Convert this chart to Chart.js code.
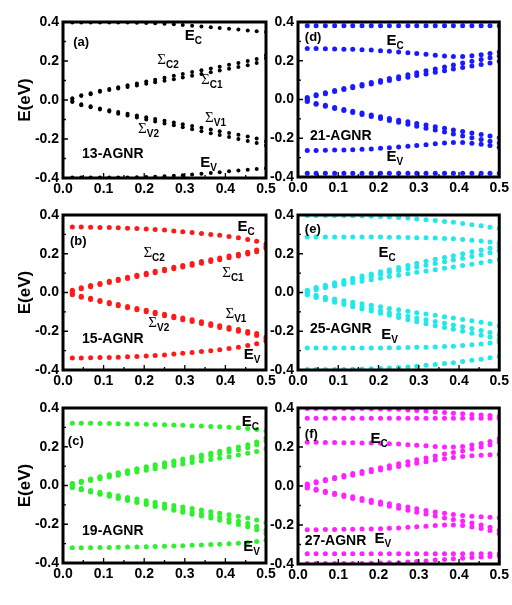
<!DOCTYPE html>
<html>
<head>
<meta charset="utf-8">
<script src="https://cdn.jsdelivr.net/npm/chart.js@4.4.1/dist/chart.umd.min.js"></script>
<style>
  html, body { margin: 0; padding: 0; background: #fff; }
  #wrap { position: relative; width: 512px; height: 605px; overflow: hidden; }
  #wrap canvas { position: absolute; }
</style>
</head>
<body>
<div id="wrap"></div>
<script>
// bias voltage points shared by every panel
const XS = [0.023, 0.045, 0.068, 0.091, 0.114, 0.136, 0.159, 0.182, 0.205, 0.227, 0.25,
  0.273, 0.295, 0.318, 0.341, 0.364, 0.386, 0.409, 0.432, 0.455, 0.477, 0.5];

const X_TICKS = [0, 0.1, 0.2, 0.3, 0.4, 0.5];
const X_MINOR = [0.05, 0.15, 0.25, 0.35, 0.45];
const Y_TICKS = [-0.4, -0.2, 0, 0.2, 0.4];
const Y_MINOR = [-0.3, -0.1, 0.1, 0.3];

// (a) 13-AGNR
const a_Ec = [0.398, 0.398, 0.398, 0.398, 0.398, 0.397, 0.397, 0.396, 0.395, 0.393, 0.391, 0.388, 0.385, 0.381, 0.377, 0.373, 0.369, 0.365, 0.361, 0.357, 0.353, 0.349];
const a_Sc2 = [0.009, 0.024, 0.034, 0.047, 0.057, 0.066, 0.076, 0.085, 0.095, 0.104, 0.114, 0.124, 0.133, 0.143, 0.152, 0.162, 0.171, 0.181, 0.19, 0.2, 0.21, 0.23];
const a_Sc1 = [0.005, 0.02, 0.03, 0.042, 0.051, 0.059, 0.067, 0.075, 0.083, 0.091, 0.099, 0.107, 0.115, 0.124, 0.133, 0.142, 0.151, 0.16, 0.169, 0.178, 0.19, 0.214];
const a_Sv1 = [-0.006, -0.022, -0.032, -0.044, -0.053, -0.062, -0.071, -0.08, -0.089, -0.097, -0.106, -0.115, -0.124, -0.133, -0.142, -0.151, -0.16, -0.169, -0.178, -0.187, -0.197, -0.212];
const a_Sv2 = [-0.01, -0.027, -0.037, -0.049, -0.059, -0.07, -0.08, -0.09, -0.1, -0.11, -0.12, -0.13, -0.14, -0.15, -0.16, -0.17, -0.18, -0.19, -0.2, -0.21, -0.22, -0.233];
const a_Ev = [-0.398, -0.398, -0.398, -0.398, -0.398, -0.397, -0.397, -0.396, -0.395, -0.393, -0.391, -0.389, -0.386, -0.382, -0.378, -0.374, -0.37, -0.366, -0.362, -0.358, -0.354, -0.35];

// (b) 15-AGNR
const b_Ec = [0.338, 0.338, 0.337, 0.336, 0.335, 0.334, 0.332, 0.33, 0.328, 0.325, 0.322, 0.318, 0.314, 0.31, 0.305, 0.3, 0.295, 0.289, 0.282, 0.274, 0.264, 0.25];
const b_Sc2 = [0.012, 0.025, 0.036, 0.047, 0.058, 0.068, 0.079, 0.089, 0.099, 0.11, 0.12, 0.13, 0.14, 0.15, 0.16, 0.169, 0.178, 0.188, 0.198, 0.208, 0.219, 0.237];
const b_Sc1 = [0.006, 0.019, 0.03, 0.041, 0.052, 0.062, 0.072, 0.082, 0.092, 0.102, 0.112, 0.122, 0.132, 0.141, 0.151, 0.16, 0.169, 0.179, 0.189, 0.199, 0.21, 0.228];
const b_Sv1 = [-0.006, -0.019, -0.03, -0.041, -0.052, -0.062, -0.072, -0.082, -0.092, -0.102, -0.112, -0.122, -0.132, -0.141, -0.151, -0.161, -0.171, -0.181, -0.191, -0.201, -0.212, -0.23];
const b_Sv2 = [-0.012, -0.025, -0.036, -0.047, -0.058, -0.068, -0.079, -0.089, -0.099, -0.11, -0.12, -0.13, -0.14, -0.15, -0.16, -0.17, -0.18, -0.19, -0.2, -0.21, -0.222, -0.24];
const b_Ev = [-0.338, -0.338, -0.337, -0.336, -0.335, -0.334, -0.332, -0.33, -0.328, -0.325, -0.322, -0.318, -0.314, -0.31, -0.305, -0.3, -0.295, -0.289, -0.282, -0.274, -0.264, -0.252];

// (c) 19-AGNR
const c_Ec = [0.321, 0.321, 0.321, 0.32, 0.32, 0.319, 0.318, 0.317, 0.316, 0.315, 0.314, 0.312, 0.311, 0.309, 0.307, 0.305, 0.303, 0.301, 0.298, 0.294, 0.289, 0.283];
const c_Sc3 = [0.01, 0.022, 0.034, 0.045, 0.055, 0.066, 0.076, 0.087, 0.097, 0.107, 0.117, 0.127, 0.137, 0.147, 0.157, 0.167, 0.177, 0.188, 0.199, 0.21, 0.225, 0.245];
const c_Sc2 = [0.01, 0.02, 0.031, 0.042, 0.052, 0.062, 0.072, 0.082, 0.091, 0.1, 0.11, 0.119, 0.128, 0.137, 0.146, 0.155, 0.164, 0.174, 0.184, 0.195, 0.21, 0.23];
const c_Sc1 = [0.005, 0.016, 0.026, 0.035, 0.044, 0.053, 0.062, 0.07, 0.079, 0.087, 0.095, 0.103, 0.111, 0.119, 0.126, 0.134, 0.141, 0.149, 0.157, 0.166, 0.176, 0.19];
const c_Sv1 = [-0.005, -0.016, -0.026, -0.035, -0.044, -0.053, -0.062, -0.07, -0.079, -0.087, -0.095, -0.103, -0.111, -0.119, -0.127, -0.135, -0.143, -0.151, -0.159, -0.168, -0.178, -0.192];
const c_Sv2 = [-0.01, -0.02, -0.031, -0.042, -0.052, -0.062, -0.072, -0.082, -0.091, -0.1, -0.11, -0.119, -0.128, -0.137, -0.146, -0.155, -0.164, -0.174, -0.184, -0.196, -0.211, -0.231];
const c_Sv3 = [-0.01, -0.022, -0.034, -0.045, -0.056, -0.067, -0.077, -0.088, -0.098, -0.108, -0.118, -0.128, -0.138, -0.148, -0.158, -0.168, -0.179, -0.19, -0.201, -0.213, -0.228, -0.248];
const c_Ev = [-0.321, -0.321, -0.321, -0.32, -0.32, -0.319, -0.318, -0.317, -0.316, -0.315, -0.314, -0.312, -0.311, -0.309, -0.307, -0.305, -0.303, -0.301, -0.298, -0.294, -0.289, -0.283];

// (d) 21-AGNR
const d_Top = [0.381, 0.381, 0.381, 0.381, 0.381, 0.381, 0.381, 0.381, 0.381, 0.381, 0.381, 0.381, 0.381, 0.381, 0.381, 0.381, 0.381, 0.381, 0.381, 0.381, 0.381, 0.381];
const d_Ec = [0.263, 0.263, 0.262, 0.261, 0.26, 0.259, 0.257, 0.255, 0.252, 0.249, 0.245, 0.241, 0.237, 0.233, 0.229, 0.225, 0.222, 0.222, 0.226, 0.231, 0.237, 0.245];
const d_Sc2 = [0.01, 0.024, 0.035, 0.046, 0.057, 0.067, 0.078, 0.088, 0.098, 0.108, 0.118, 0.128, 0.138, 0.148, 0.158, 0.168, 0.178, 0.188, 0.197, 0.206, 0.215, 0.224];
const d_Sc1 = [0.005, 0.02, 0.03, 0.041, 0.051, 0.061, 0.07, 0.08, 0.089, 0.098, 0.107, 0.115, 0.124, 0.132, 0.141, 0.149, 0.157, 0.165, 0.173, 0.181, 0.189, 0.197];
const d_Sv1 = [-0.005, -0.02, -0.03, -0.041, -0.051, -0.061, -0.07, -0.08, -0.089, -0.098, -0.107, -0.115, -0.124, -0.132, -0.141, -0.149, -0.157, -0.165, -0.173, -0.181, -0.189, -0.198];
const d_Sv2 = [-0.01, -0.024, -0.035, -0.046, -0.057, -0.067, -0.078, -0.088, -0.098, -0.108, -0.118, -0.128, -0.138, -0.148, -0.158, -0.168, -0.178, -0.188, -0.197, -0.206, -0.215, -0.225];
const d_Ev = [-0.263, -0.263, -0.262, -0.261, -0.26, -0.259, -0.257, -0.255, -0.252, -0.249, -0.245, -0.241, -0.237, -0.233, -0.229, -0.225, -0.222, -0.222, -0.226, -0.231, -0.237, -0.246];
const d_Bot = [-0.381, -0.381, -0.381, -0.381, -0.381, -0.381, -0.381, -0.381, -0.381, -0.381, -0.381, -0.381, -0.381, -0.381, -0.381, -0.381, -0.381, -0.381, -0.381, -0.381, -0.381, -0.381];

// (e) 25-AGNR
const e_Top = [0.398, 0.398, 0.398, 0.397, 0.397, 0.396, 0.395, 0.394, 0.392, 0.39, 0.387, 0.384, 0.38, 0.376, 0.372, 0.367, 0.362, 0.356, 0.35, 0.344, 0.337, 0.33];
const e_Ec = [0.287, 0.287, 0.287, 0.287, 0.287, 0.287, 0.286, 0.286, 0.286, 0.285, 0.285, 0.284, 0.283, 0.282, 0.281, 0.279, 0.277, 0.274, 0.27, 0.266, 0.261, 0.255];
const e_Sc3 = [0.012, 0.026, 0.038, 0.05, 0.062, 0.073, 0.085, 0.096, 0.107, 0.118, 0.129, 0.14, 0.151, 0.161, 0.171, 0.181, 0.19, 0.2, 0.21, 0.219, 0.228, 0.238];
const e_Sc2 = [0.008, 0.02, 0.031, 0.042, 0.053, 0.063, 0.074, 0.084, 0.094, 0.104, 0.113, 0.123, 0.132, 0.141, 0.15, 0.159, 0.168, 0.177, 0.186, 0.195, 0.205, 0.215];
const e_Sc1 = [0.004, 0.014, 0.024, 0.033, 0.042, 0.05, 0.058, 0.066, 0.074, 0.082, 0.089, 0.097, 0.104, 0.111, 0.118, 0.125, 0.132, 0.139, 0.146, 0.153, 0.161, 0.17];
const e_Sv1 = [-0.004, -0.014, -0.024, -0.033, -0.042, -0.05, -0.058, -0.066, -0.074, -0.082, -0.089, -0.097, -0.104, -0.111, -0.118, -0.125, -0.132, -0.139, -0.146, -0.153, -0.161, -0.172];
const e_Sv2 = [-0.008, -0.02, -0.031, -0.042, -0.053, -0.063, -0.074, -0.084, -0.094, -0.104, -0.113, -0.123, -0.132, -0.141, -0.15, -0.159, -0.168, -0.177, -0.186, -0.196, -0.207, -0.218];
const e_Sv3 = [-0.012, -0.026, -0.038, -0.05, -0.062, -0.073, -0.085, -0.096, -0.107, -0.118, -0.129, -0.14, -0.151, -0.161, -0.171, -0.181, -0.19, -0.2, -0.21, -0.22, -0.23, -0.242];
const e_Ev = [-0.287, -0.287, -0.287, -0.287, -0.287, -0.287, -0.286, -0.286, -0.286, -0.285, -0.285, -0.284, -0.283, -0.282, -0.281, -0.279, -0.277, -0.274, -0.27, -0.266, -0.261, -0.255];
const e_Bot = [-0.398, -0.398, -0.398, -0.397, -0.397, -0.396, -0.395, -0.394, -0.392, -0.39, -0.387, -0.384, -0.38, -0.376, -0.372, -0.367, -0.362, -0.356, -0.35, -0.344, -0.337, -0.33];

// (f) 27-AGNR
const f_Top1 = [0.398, 0.398, 0.398, 0.398, 0.398, 0.397, 0.397, 0.396, 0.395, 0.394, 0.393, 0.39, 0.387, 0.384, 0.38, 0.377, 0.373, 0.37, 0.367, 0.364, 0.361, 0.358];
const f_Top2 = [0.348, 0.348, 0.348, 0.348, 0.348, 0.348, 0.348, 0.348, 0.348, 0.348, 0.348, 0.348, 0.348, 0.348, 0.348, 0.348, 0.348, 0.348, 0.348, 0.348, 0.348, 0.348];
const f_Ec = [0.224, 0.224, 0.223, 0.223, 0.222, 0.222, 0.221, 0.22, 0.219, 0.217, 0.215, 0.212, 0.209, 0.206, 0.203, 0.2, 0.2, 0.203, 0.21, 0.218, 0.228, 0.242];
const f_Sc2 = [0.01, 0.022, 0.033, 0.044, 0.054, 0.064, 0.074, 0.084, 0.094, 0.104, 0.114, 0.124, 0.134, 0.144, 0.154, 0.164, 0.172, 0.18, 0.19, 0.2, 0.212, 0.226];
const f_Sc1 = [0.005, 0.017, 0.027, 0.037, 0.046, 0.055, 0.064, 0.073, 0.082, 0.091, 0.1, 0.108, 0.117, 0.125, 0.133, 0.14, 0.146, 0.151, 0.155, 0.158, 0.16, 0.162];
const f_Sv1 = [-0.005, -0.017, -0.027, -0.037, -0.046, -0.055, -0.064, -0.073, -0.082, -0.091, -0.1, -0.108, -0.117, -0.125, -0.133, -0.14, -0.146, -0.151, -0.155, -0.158, -0.16, -0.163];
const f_Sv2 = [-0.01, -0.022, -0.033, -0.044, -0.054, -0.064, -0.074, -0.084, -0.094, -0.104, -0.114, -0.124, -0.134, -0.144, -0.154, -0.164, -0.172, -0.18, -0.19, -0.2, -0.212, -0.227];
const f_Ev = [-0.224, -0.224, -0.223, -0.223, -0.222, -0.222, -0.221, -0.22, -0.219, -0.217, -0.215, -0.212, -0.209, -0.206, -0.203, -0.2, -0.2, -0.203, -0.21, -0.218, -0.228, -0.243];
const f_Bot2 = [-0.348, -0.348, -0.348, -0.348, -0.348, -0.348, -0.348, -0.348, -0.348, -0.348, -0.348, -0.348, -0.348, -0.348, -0.348, -0.348, -0.348, -0.348, -0.348, -0.348, -0.348, -0.348];
const f_Bot1 = [-0.398, -0.398, -0.398, -0.398, -0.398, -0.397, -0.397, -0.396, -0.395, -0.394, -0.393, -0.39, -0.387, -0.384, -0.38, -0.377, -0.373, -0.37, -0.367, -0.364, -0.361, -0.358];

const SANS = "'Liberation Sans', Arial, sans-serif";
const SERIF = "'Liberation Serif', 'Times New Roman', serif";

// text inside the panels: [kind, text, subscript, V, E]
const panels = [
  { box: [0, 0, 282, 200], area: [63, 22, 266, 178], color: '#000000', r: 2,
    series: [a_Ec, a_Sc2, a_Sc1, a_Sv1, a_Sv2, a_Ev], ylab: true, xlab: false,
    notes: [['t', '(a)', '', 0.025, 0.277], ['E', 'E', 'C', 0.30, 0.308], ['S', 'Σ', 'C2', 0.232, 0.185],
      ['S', 'Σ', 'C1', 0.34, 0.082], ['S', 'Σ', 'V1', 0.35, -0.113], ['S', 'Σ', 'V2', 0.185, -0.17],
      ['b', '13-AGNR', '', 0.047, -0.297], ['E', 'E', 'V', 0.338, -0.345]] },
  { box: [0, 195, 282, 200], area: [63, 215, 266, 370], color: '#ff1a1a', r: 2.5,
    series: [b_Ec, b_Sc2, b_Sc1, b_Sv1, b_Sv2, b_Ev], ylab: true, xlab: false,
    notes: [['t', '(b)', '', 0.017, 0.246], ['E', 'E', 'C', 0.43, 0.318], ['S', 'Σ', 'C2', 0.198, 0.185],
      ['S', 'Σ', 'C1', 0.392, 0.082], ['S', 'Σ', 'V1', 0.40, -0.133], ['S', 'Σ', 'V2', 0.21, -0.18],
      ['b', '15-AGNR', '', 0.047, -0.26], ['E', 'E', 'V', 0.445, -0.344]] },
  { box: [0, 390, 282, 215], area: [63, 408, 266, 563], color: '#2ef02e', r: 2.5,
    series: [c_Ec, c_Sc3, c_Sc2, c_Sc1, c_Sv1, c_Sv2, c_Sv3, c_Ev], ylab: true, xlab: true,
    notes: [['t', '(c)', '', 0.012, 0.21], ['E', 'E', 'C', 0.44, 0.308],
      ['b', '19-AGNR', '', 0.047, -0.256], ['E', 'E', 'V', 0.444, -0.338]] },
  { box: [262, 0, 250, 200], area: [298, 22, 503, 177], color: '#1a1aff', r: 2.5,
    series: [d_Top, d_Ec, d_Sc2, d_Sc1, d_Sv1, d_Sv2, d_Ev, d_Bot], ylab: false, xlab: false,
    notes: [['t', '(d)', '', 0.017, 0.30], ['E', 'E', 'C', 0.22, 0.282],
      ['b', '21-AGNR', '', 0.03, -0.21], ['E', 'E', 'V', 0.22, -0.318]] },
  { box: [262, 195, 250, 200], area: [298, 215, 503, 370], color: '#22e8e8', r: 2.5,
    series: [e_Top, e_Ec, e_Sc3, e_Sc2, e_Sc1, e_Sv1, e_Sv2, e_Sv3, e_Ev, e_Bot], ylab: false, xlab: false,
    notes: [['t', '(e)', '', 0.017, 0.308], ['E', 'E', 'C', 0.2, 0.185],
      ['b', '25-AGNR', '', 0.03, -0.21], ['E', 'E', 'V', 0.207, -0.241]] },
  { box: [262, 390, 250, 215], area: [298, 408, 503, 564], color: '#ff22ff', r: 2.5,
    series: [f_Top1, f_Top2, f_Ec, f_Sc2, f_Sc1, f_Sv1, f_Sv2, f_Ev, f_Bot2, f_Bot1], ylab: false, xlab: true,
    notes: [['t', '(f)', '', 0.017, 0.246], ['E', 'E', 'C', 0.18, 0.22],
      ['b', '27-AGNR', '', 0.017, -0.3], ['E', 'E', 'V', 0.19, -0.29]] }
];

function drawNote(ctx, n, px, py) {
  const [kind, text, sub] = n;
  ctx.fillStyle = '#000';
  ctx.textBaseline = 'alphabetic';
  ctx.textAlign = 'left';
  if (kind === 't') {
    ctx.font = 'bold 13px ' + SANS;
    ctx.fillText(text, px, py);
  } else if (kind === 'b') {
    ctx.font = 'bold 14px ' + SANS;
    ctx.fillText(text, px, py);
  } else if (kind === 'E') {
    ctx.font = 'bold 15px ' + SANS;
    ctx.fillText(text, px, py);
    const w = ctx.measureText(text).width;
    ctx.font = 'bold 10px ' + SANS;
    ctx.fillText(sub, px + w, py + 4);
  } else {
    ctx.font = '15px ' + SERIF;
    ctx.fillText(text, px, py);
    const w = ctx.measureText(text).width;
    ctx.font = 'bold 10px ' + SANS;
    ctx.fillText(sub, px + w, py + 4);
  }
}

const panelDecor = {
  id: 'panelDecor',
  afterDraw(chart, args, opts) {
    const { ctx, chartArea: a, scales: { x, y } } = chart;
    ctx.save();
    ctx.strokeStyle = '#000';
    ctx.lineWidth = 1.3;
    ctx.beginPath();
    X_TICKS.forEach(v => { const p = x.getPixelForValue(v); ctx.moveTo(p, a.bottom); ctx.lineTo(p, a.bottom - 5); });
    X_MINOR.forEach(v => { const p = x.getPixelForValue(v); ctx.moveTo(p, a.bottom); ctx.lineTo(p, a.bottom - 3); });
    Y_TICKS.forEach(v => { const p = y.getPixelForValue(v); ctx.moveTo(a.left, p); ctx.lineTo(a.left + 5, p); });
    Y_MINOR.forEach(v => { const p = y.getPixelForValue(v); ctx.moveTo(a.left, p); ctx.lineTo(a.left + 3, p); });
    ctx.stroke();
    ctx.lineWidth = 3;
    ctx.strokeRect(a.left, a.top, a.right - a.left, a.bottom - a.top);

    opts.notes.forEach(n => drawNote(ctx, n, x.getPixelForValue(n[3]), y.getPixelForValue(n[4])));

    ctx.fillStyle = '#000';
    if (opts.ylab) {
      ctx.save();
      ctx.translate(25, (a.top + a.bottom) / 2);
      ctx.rotate(-Math.PI / 2);
      ctx.font = 'bold 17px ' + SANS;
      ctx.textAlign = 'center';
      ctx.textBaseline = 'middle';
      ctx.fillText('E(eV)', 0, 0);
      ctx.restore();
    }
    if (opts.xlab) {
      ctx.font = 'bold 16px ' + SANS;
      ctx.textBaseline = 'alphabetic';
      const cx = (a.left + a.right) / 2;
      const wV = ctx.measureText('V').width;
      ctx.font = 'bold 9px ' + SANS;
      const wS = ctx.measureText('ω').width;
      ctx.font = 'bold 16px ' + SANS;
      const wR = ctx.measureText('(V)').width;
      const sx = cx - (wV + wS + wR) / 2;
      const base = 603;
      ctx.textAlign = 'left';
      ctx.fillText('V', sx, base);
      ctx.font = 'bold 9px ' + SANS;
      ctx.fillText('ω', sx + wV, base + 3);
      ctx.font = 'bold 16px ' + SANS;
      ctx.fillText('(V)', sx + wV + wS, base);
    }
    ctx.restore();
  }
};

const wrap = document.getElementById('wrap');

panels.forEach(p => {
  const [cx, cy, cw, ch] = p.box;
  const [L, T, R, B] = p.area;
  const canvas = document.createElement('canvas');
  canvas.width = cw;
  canvas.height = ch;
  canvas.style.left = cx + 'px';
  canvas.style.top = cy + 'px';
  canvas.style.width = cw + 'px';
  canvas.style.height = ch + 'px';
  wrap.appendChild(canvas);

  const tickFont = { family: SANS, size: 14, weight: 'bold' };
  const fmt = v => (Math.abs(v) < 1e-9 ? '0.0' : Number(v).toFixed(1));

  new Chart(canvas.getContext('2d'), {
    type: 'scatter',
    data: {
      datasets: p.series.map(arr => ({
        data: XS.map((v, i) => ({ x: v, y: arr[i] })),
        backgroundColor: p.color,
        borderColor: p.color,
        borderWidth: 0,
        pointRadius: p.r,
        showLine: false
      }))
    },
    options: {
      responsive: false,
      animation: false,
      devicePixelRatio: 1,
      layout: { padding: { top: T - cy, right: cx + cw - R, left: 0, bottom: 0 } },
      plugins: {
        legend: { display: false },
        tooltip: { enabled: false },
        panelDecor: { notes: p.notes, ylab: p.ylab, xlab: p.xlab }
      },
      scales: {
        x: {
          type: 'linear', min: 0, max: 0.5,
          grid: { display: false, drawTicks: false },
          border: { display: false },
          ticks: { stepSize: 0.1, autoSkip: false, maxRotation: 0, padding: 3, color: '#000', font: tickFont, callback: fmt },
          afterFit: s => { s.height = cy + ch - B; }
        },
        y: {
          type: 'linear', min: -0.4, max: 0.4,
          grid: { display: false, drawTicks: false },
          border: { display: false },
          ticks: { stepSize: 0.2, autoSkip: false, padding: 4, color: '#000', font: tickFont, callback: fmt },
          afterFit: s => { s.width = L - cx; }
        }
      }
    },
    plugins: [panelDecor]
  });
});
</script>
</body>
</html>
